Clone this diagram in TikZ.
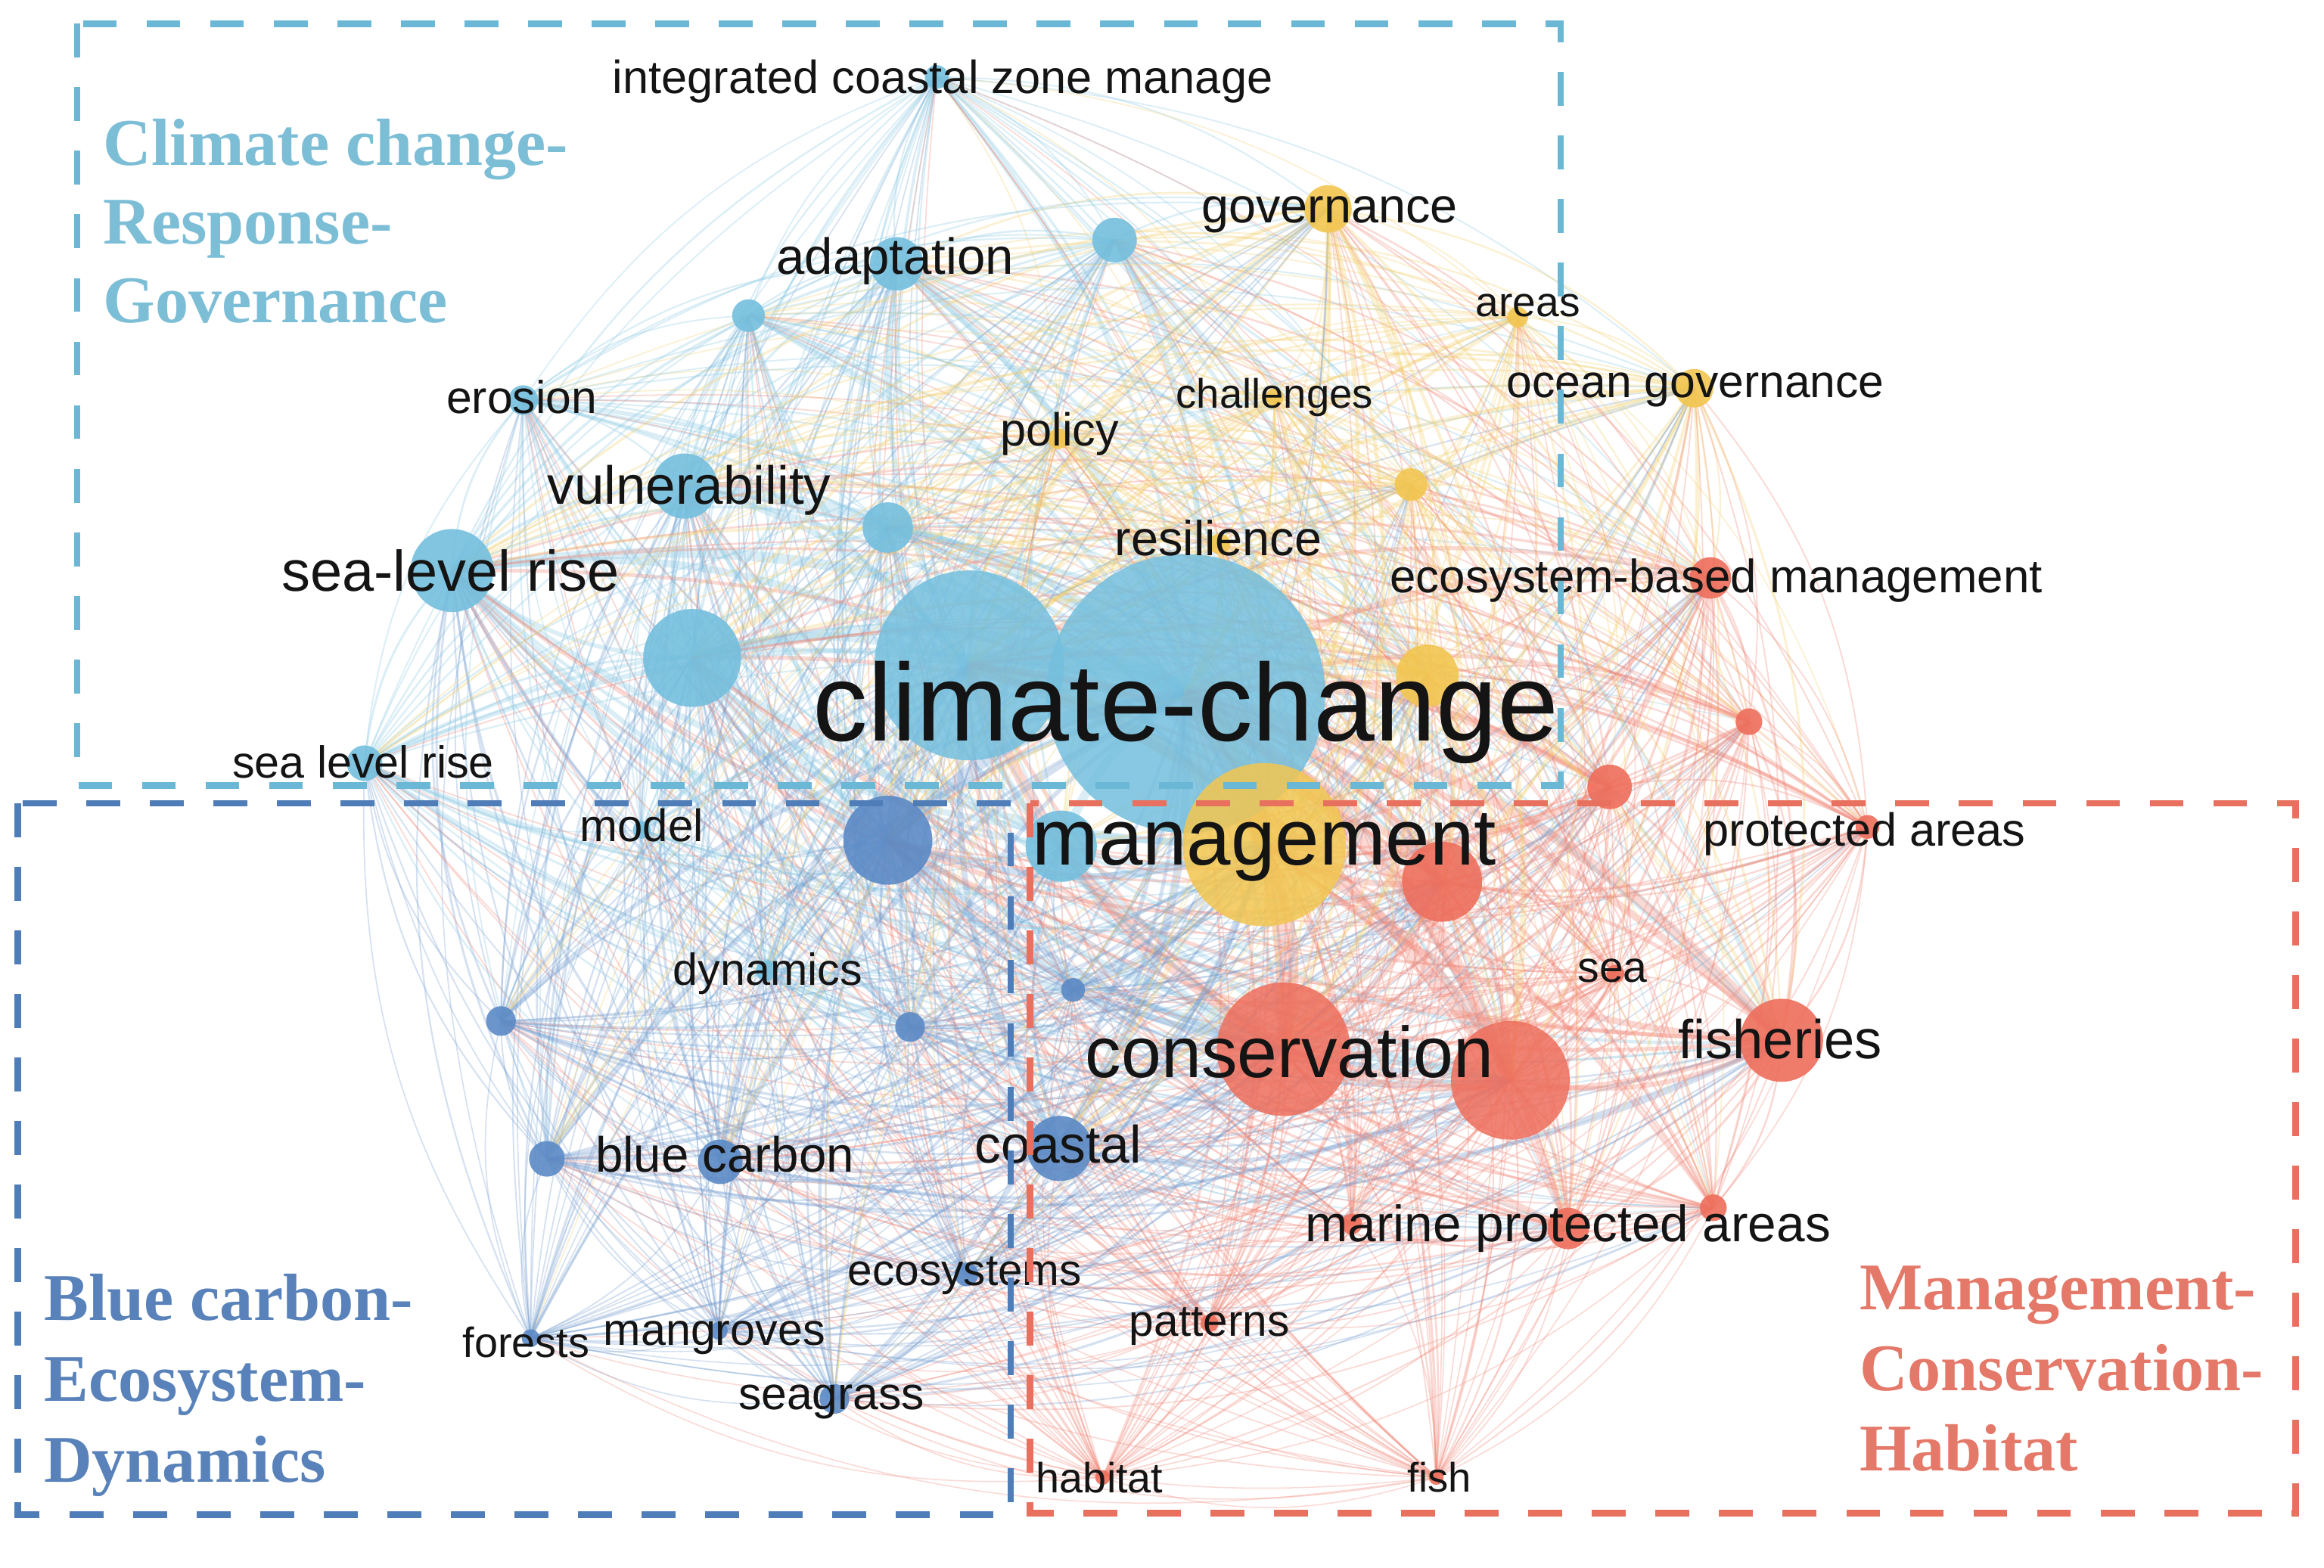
\documentclass[tikz,border=0pt]{standalone}
\usepackage{fontspec}
\setmainfont{Liberation Sans}
\newfontfamily\boxfont{Liberation Serif}
\definecolor{lb}{HTML}{74BFDE}
\definecolor{db}{HTML}{5B8AC6}
\definecolor{yw}{HTML}{F2C650}
\definecolor{rd}{HTML}{EE6E5C}
\definecolor{lbbox}{HTML}{6BB7D6}
\definecolor{dbbox}{HTML}{4F7DB8}
\definecolor{rdbox}{HTML}{E8705F}
\definecolor{lbtxt}{HTML}{7DBED7}
\definecolor{dbtxt}{HTML}{5882B9}
\definecolor{rdtxt}{HTML}{E47869}
\newcommand\lfs[1]{\fontsize{#1}{#1}\selectfont}
\begin{document}
\begin{tikzpicture}[x=0.01cm,y=-0.01cm,
  lab/.style={inner sep=0pt,text=black!92},
  dot/.style={circle,inner sep=0pt,draw=none},
  grpbox/.style={line width=1.25pt,dash pattern=on 6.5pt off 5.7pt},
  grptxt/.style={inner sep=0pt,anchor=base west,font=\boxfont\bfseries\lfs{12.8}}]
\useasboundingbox (0,0) rectangle (1568,1058);
\fill[white] (0,0) rectangle (1568,1058);
% node positions
\foreach \i/\x/\y/\r/\c in {
1/632/52/8/lb, 2/605/178/18/lb, 3/752/162/15/lb, 4/505/213/11/lb,
5/353/270/10/lb, 6/462/328/22/lb, 7/305/385/28/lb, 8/599/356/17/lb,
9/467/444/33/lb, 10/246/515/12/lb, 11/654/449/64/lb, 12/800/468/94/lb,
13/716/571/24/lb, 14/517/655/7/lb, 15/433/560/6/lb,
16/599/567/30/db, 17/338/689/10/db, 18/614/693/10/db, 19/724/668/8/db,
20/486/784/15/db, 21/369/782/12/db, 22/715/775/22/db, 23/652/860/8/db,
24/358/903/6/db, 25/485/898/6/db, 26/563/944/10/db,
27/896/141/16/yw, 28/1024/214/7/yw, 29/860/268/6/yw, 30/714/296/7/yw,
31/1143/262/13/yw, 32/952/327/11/yw, 33/823/367/7/yw, 34/963/456/21/yw,
35/853/570/55/yw,
36/1154/390/14/rd, 37/1180/487/9/rd, 38/1086/531/15/rd, 39/1260/558/8/rd,
40/973/595/27/rd, 41/1090/657/6/rd, 42/866/708/45/rd, 43/1019/729/40/rd,
44/1202/702/28/rd, 45/1058/829/14/rd, 46/1156/815/9/rd, 47/912/826/7/rd,
48/816/893/6/rd, 49/744/997/5/rd, 50/969/997/5/rd}{
  \coordinate (v\i) at (\x,\y);
  \expandafter\xdef\csname nr\i\endcsname{\r}
  \expandafter\xdef\csname nc\i\endcsname{\c}
  \expandafter\xdef\csname nx\i\endcsname{\x}
  \expandafter\xdef\csname ny\i\endcsname{\y}
}
% connectors (coloured by the smaller end)
\foreach \i in {1,...,49}{
  \pgfmathtruncatemacro\ii{\i+1}
  \foreach \j in {\ii,...,50}{
    \pgfmathsetmacro\lw{0.2+\csname nr\i\endcsname*\csname nr\j\endcsname/1500}
    \ifdim\csname nr\i\endcsname pt<\csname nr\j\endcsname pt
      \edef\ec{\csname nc\i\endcsname}\else\edef\ec{\csname nc\j\endcsname}\fi
    \pgfmathsetmacro\crs{-((\csname nx\j\endcsname-\csname nx\i\endcsname)/100)*((530-\csname ny\i\endcsname)/100)+((\csname ny\j\endcsname-\csname ny\i\endcsname)/100)*((750-\csname nx\i\endcsname)/100)}
    \ifdim\crs pt>0pt \def\ba{-18}\else\def\ba{18}\fi
    \draw[draw=\ec!85,line width=\lw pt,opacity=.3] (v\i) to[bend left=\ba] (v\j);
  }
}
% node circles, big first
\foreach \i in {12,11,35,42,43}{
  \node[dot,fill=\csname nc\i\endcsname,fill opacity=.85,minimum size=\csname nr\i\endcsname*0.02cm] (c\i) at (v\i) {};
}
\foreach \i in {1,...,10,13,14,...,34,36,37,38,39,40,41,44,45,...,50}{
  \node[dot,fill=\csname nc\i\endcsname,fill opacity=.9,minimum size=\csname nr\i\endcsname*0.02cm] (c\i) at (v\i) {};
}
% labels
\node[lab,font=\lfs{8.9}] (t1) at (636,55) {integrated coastal zone manage};
\node[lab,font=\lfs{9.75}] (t2) at (604,176) {adaptation};
\node[lab,font=\lfs{8.8}] (t5) at (352,268) {erosion};
\node[lab,font=\lfs{10.3}] (t6) at (465,331) {vulnerability};
\node[lab,font=\lfs{11}] (t7) at (304,385) {sea-level rise};
\node[lab,font=\lfs{8.6}] (t10) at (245,514) {sea level rise};
\node[lab,font=\lfs{21.1}] (t12) at (800,481) {climate-change};
\node[lab,font=\lfs{8.6}] (t14) at (518,657) {dynamics};
\node[lab,font=\lfs{8.7}] (t15) at (433,557) {model};
\node[lab,font=\lfs{9.5}] (t20) at (489,779) {blue carbon};
\node[lab,font=\lfs{10.1}] (t22) at (714,772) {coastal};
\node[lab,font=\lfs{8.5}] (t23) at (651,861) {ecosystems};
\node[lab,font=\lfs{8.1}] (t24) at (355,906) {forests};
\node[lab,font=\lfs{8.6}] (t25) at (482,903) {mangroves};
\node[lab,font=\lfs{8.8}] (t26) at (561,946) {seagrass};
\node[lab,font=\lfs{9.4}] (t27) at (897,145) {governance};
\node[lab,font=\lfs{8}] (t28) at (1031,206) {areas};
\node[lab,font=\lfs{7.9}] (t29) at (860,268) {challenges};
\node[lab,font=\lfs{8.9}] (t30) at (715,293) {policy};
\node[lab,font=\lfs{8.8}] (t31) at (1144,263) {ocean governance};
\node[lab,font=\lfs{9.4}] (t33) at (822,363) {resilience};
\node[lab,font=\lfs{15.25}] (t35) at (853,572) {management};
\node[lab,font=\lfs{8.97}] (t36) at (1158,392) {ecosystem-based management};
\node[lab,font=\lfs{8.9}] (t39) at (1258,563) {protected areas};
\node[lab,font=\lfs{8.3}] (t41) at (1088,655) {sea};
\node[lab,font=\lfs{13.8}] (t42) at (870,710) {conservation};
\node[lab,font=\lfs{10.5}] (t44) at (1201,701) {fisheries};
\node[lab,font=\lfs{9.8}] (t45) at (1058,829) {marine protected areas};
\node[lab,font=\lfs{8.5}] (t48) at (816,895) {patterns};
\node[lab,font=\lfs{8.1}] (t49) at (742,997) {habitat};
\node[lab,font=\lfs{7.9}] (t50) at (971,997) {fish};
% group boxes
\draw[grpbox,draw=lbbox] (52,16) rectangle (1053,530);
\draw[grpbox,draw=dbbox] (12,542) rectangle (682,1022);
\draw[grpbox,draw=rdbox] (695,542) rectangle (1549,1021);
% group titles
\node[grptxt,text=lbtxt] (g1a) at (69,111.4) {Climate change-};
\node[grptxt,text=lbtxt] (g1b) at (69,164.6) {Response-};
\node[grptxt,text=lbtxt] (g1c) at (69,217.8) {Governance};
\node[grptxt,text=dbtxt] (g2a) at (29,890.8) {Blue carbon-};
\node[grptxt,text=dbtxt] (g2b) at (29,945.4) {Ecosystem-};
\node[grptxt,text=dbtxt] (g2c) at (29,1000) {Dynamics};
\node[grptxt,text=rdtxt] (g3a) at (1254,884) {Management-};
\node[grptxt,text=rdtxt] (g3b) at (1254,938.3) {Conservation-};
\node[grptxt,text=rdtxt] (g3c) at (1254,992.6) {Habitat};
\end{tikzpicture}
\end{document}
